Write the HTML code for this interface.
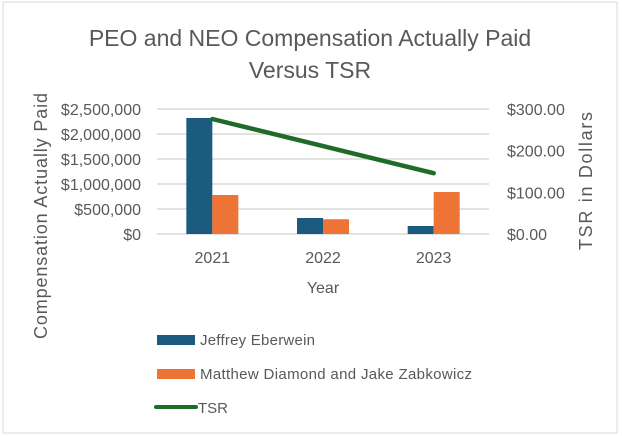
<!DOCTYPE html>
<html><head><meta charset="utf-8"><style>
body{margin:0;background:#fff;}
svg{display:block;font-family:"Liberation Sans",sans-serif;}
</style></head><body>
<svg id="c" width="622" height="436" xmlns="http://www.w3.org/2000/svg">
<rect x="3" y="2" width="614" height="431" fill="#fff" stroke="#d9d9d9"/>
<text x="310" y="46" text-anchor="middle" font-size="23" fill="#595959">PEO and NEO Compensation Actually Paid</text>
<text x="310" y="78" text-anchor="middle" font-size="23" fill="#595959">Versus TSR</text>
<g id="grid"></g><g id="bars"></g><g id="line"></g><g id="labels"></g>
<text transform="translate(47,216) rotate(-90)" text-anchor="middle" font-size="18" textLength="246" fill="#595959">Compensation Actually Paid</text>
<text transform="translate(592,181) rotate(-90)" text-anchor="middle" font-size="18" textLength="138" fill="#595959">TSR in Dollars</text>
<text x="323" y="293" text-anchor="middle" font-size="16" fill="#595959">Year</text>
<g>
<rect x="157" y="335" width="38" height="10" fill="#1b5b7e"/>
<text x="200" y="345" font-size="15" textLength="115" fill="#595959">Jeffrey Eberwein</text>
<rect x="157" y="369" width="38" height="10" fill="#ed7434"/>
<text x="200" y="379" font-size="15" textLength="272" fill="#595959">Matthew Diamond and Jake Zabkowicz</text>
<line x1="156" y1="407" x2="196" y2="407" stroke="#1e6b2a" stroke-width="4" stroke-linecap="round"/>
<text x="198" y="413" font-size="15" fill="#595959">TSR</text>
</g>
</svg>
<script>
const categories=["2021","2022","2023"];
const jeffrey=[2320000,320000,160000];
const matthew=[780000,295000,840000];
const tsr=[276,211,146];
const leftTicks=["$0","$500,000","$1,000,000","$1,500,000","$2,000,000","$2,500,000"];
const rightTicks=["$0.00","$100.00","$200.00","$300.00"];
const NS="http://www.w3.org/2000/svg";
const L=157,R=489,T=109,B=234;
const yL=v=>B-(v/2500000)*(B-T);
const yR=v=>B-(v/300)*(B-T);
const bw=(R-L)/categories.length;
const xc=i=>L+bw*(i+0.5);
function mk(tag,attrs,parent,text){const e=document.createElementNS(NS,tag);for(const k in attrs)e.setAttribute(k,attrs[k]);if(text!==undefined)e.textContent=text;document.getElementById(parent).appendChild(e);return e;}
leftTicks.forEach((t,i)=>{const y=yL(i*500000);
const g=mk('line',{x1:L,x2:R,y1:y,y2:y,stroke:'#d9d9d9','stroke-width':1.5},'grid');


const tx=mk('text',{x:141,y:y+6,'text-anchor':'end','font-size':16,fill:'#595959'},'labels',t);

});
rightTicks.forEach((t,i)=>{const y=yR(i*100);
const tx=mk('text',{x:507,y:y+6,'font-size':16,fill:'#595959'},'labels',t);

});
categories.forEach((c,i)=>{
const b1=mk('rect',{x:xc(i)-26,y:yL(jeffrey[i]),width:26,height:B-yL(jeffrey[i]),fill:'#1b5b7e'},'bars');


const b2=mk('rect',{x:xc(i),y:yL(matthew[i]),width:26,height:B-yL(matthew[i]),fill:'#ed7434'},'bars');


const tx=mk('text',{x:xc(i),y:263,'text-anchor':'middle','font-size':16,fill:'#595959'},'labels',c);

});
const pl=mk('polyline',{points:tsr.map((v,i)=>xc(i)+','+yR(v)).join(' '),fill:'none',stroke:'#1e6b2a','stroke-width':4.5,'stroke-linecap':'round'},'line');


</script>
</body></html>
